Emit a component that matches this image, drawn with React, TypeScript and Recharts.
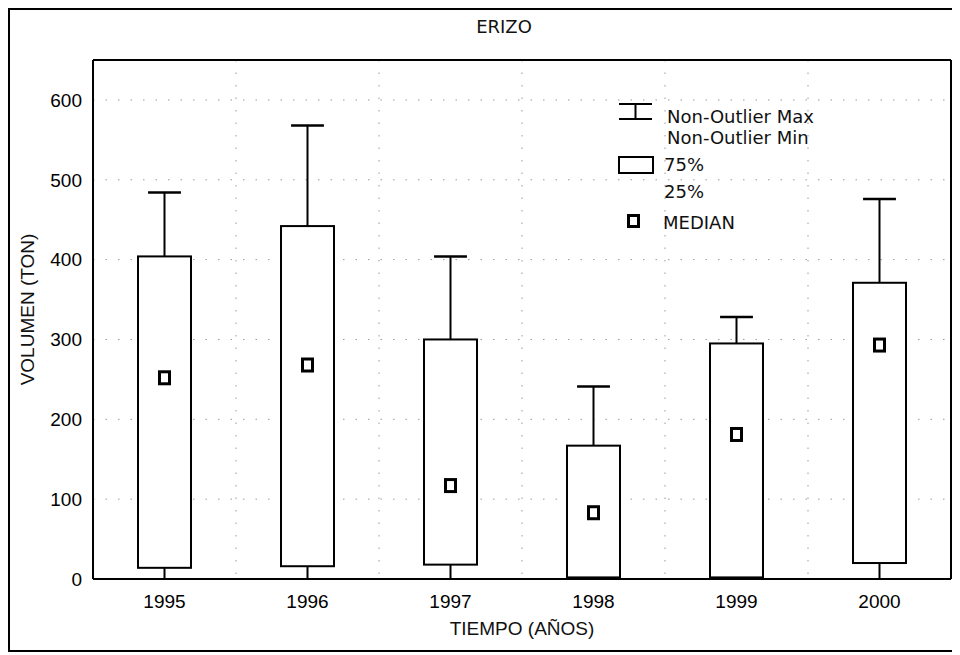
import { ComposedChart, Bar, Scatter, XAxis, YAxis, CartesianGrid, Legend } from 'recharts';

// ERIZO – volumen anual (box plot: min/max no atípicos, cuartiles y mediana)
const years = ['1995', '1996', '1997', '1998', '1999', '2000'];
const minVals = [0, 0, 0, 0, 0, 0];
const q1Vals = [14, 16, 18, 2, 2, 20];
const medianVals = [252, 268, 117, 83, 181, 293];
const q3Vals = [404, 442, 300, 167, 295, 371];
const maxVals = [484, 568, 404, 241, 328, 476];
const yTicks = [0, 100, 200, 300, 400, 500, 600];
const legendLabels = ['Non-Outlier Max', 'Non-Outlier Min', '75%', '25%', 'MEDIAN'];

const chartData = years.map((year, i) => ({
  year,
  min: minVals[i],
  q1: q1Vals[i],
  median: medianVals[i],
  q3: q3Vals[i],
  max: maxVals[i],
}));

const axisFont = '"Liberation Sans", Arial, sans-serif';
const labelFont = '"DejaVu Sans", Verdana, sans-serif';

function BoxShape(props: any) {
  const { x, y, width, height, payload } = props;
  const { min, q1, q3, max } = payload;
  // map a value onto the bar's [min, max] pixel range
  const yOf = (v: number) => y + (height * (max - v)) / (max - min);
  const cx = x + width / 2;
  const cap = width * 0.31;
  return (
    <g stroke="#000" fill="none">
      <line x1={cx} x2={cx} y1={yOf(max)} y2={yOf(q3)} strokeWidth={2} />
      <line x1={cx - cap} x2={cx + cap} y1={yOf(max)} y2={yOf(max)} strokeWidth={2.5} />
      <line x1={cx} x2={cx} y1={yOf(q1)} y2={yOf(min)} strokeWidth={2} />
      <rect x={x} y={yOf(q3)} width={width} height={yOf(q1) - yOf(q3)} fill="#fff" strokeWidth={2} />
    </g>
  );
}

function MedianShape(props: any) {
  const { cx, cy } = props;
  return <rect x={cx - 5} y={cy - 6} width={10} height={12} fill="#fff" stroke="#000" strokeWidth={3} />;
}

function LegendBox() {
  const textStyle = { fontFamily: labelFont, fontSize: 18, fill: '#111' };
  return (
    <svg width={230} height={140}>
      <g stroke="#000" strokeWidth={2} fill="none">
        <line x1={9} x2={42} y1={9} y2={9} />
        <line x1={25.5} x2={25.5} y1={9} y2={24} />
        <line x1={9} x2={42} y1={24} y2={24} />
        <rect x={9} y={62} width={34} height={16} fill="#fff" />
        <rect x={18.5} y={120.5} width={10} height={11} fill="#fff" strokeWidth={3} />
      </g>
      <text x={57} y={28} {...textStyle}>{legendLabels[0]}</text>
      <text x={57} y={49} {...textStyle}>{legendLabels[1]}</text>
      <text x={54} y={76} {...textStyle}>{legendLabels[2]}</text>
      <text x={54} y={103} {...textStyle}>{legendLabels[3]}</text>
      <text x={53} y={134} {...textStyle}>{legendLabels[4]}</text>
    </svg>
  );
}

export default function App() {
  return (
    <div
      style={{
        position: 'relative',
        width: 946,
        height: 640,
        borderLeft: '2px solid #000',
        borderTop: '2px solid #000',
        borderBottom: '2px solid #000',
        background: '#fff',
      }}
    >
      <div
        style={{
          position: 'absolute',
          top: 8,
          left: 444,
          width: 100,
          textAlign: 'center',
          fontFamily: labelFont,
          fontSize: 18,
          lineHeight: '18px',
          color: '#111',
        }}
      >
        ERIZO
      </div>
      <ComposedChart width={946} height={640} data={chartData} margin={{ top: 49, right: 4, left: 0, bottom: 11 }}>
        <CartesianGrid
          stroke="#9a9a9a"
          strokeDasharray="1.5 11"
          verticalCoordinatesGenerator={({ offset }: any) =>
            years.slice(1).map((_, i) => offset.left + (offset.width * (i + 1)) / years.length)
          }
        />
        <XAxis
          dataKey="year"
          height={60}
          tickLine={false}
          tickMargin={10}
          axisLine={{ stroke: '#000', strokeWidth: 2 }}
          tick={{ fontSize: 19, fill: '#000', fontFamily: axisFont }}
          label={{
            value: 'TIEMPO (AÑOS)',
            content: ({ viewBox }: any) => (
              <text
                x={viewBox.x + viewBox.width / 2}
                y={viewBox.y + 56}
                textAnchor="middle"
                fontFamily={axisFont}
                fontSize={19}
                fill="#111"
              >
                TIEMPO (AÑOS)
              </text>
            ),
          }}
        />
        <XAxis
          xAxisId="top"
          dataKey="year"
          orientation="top"
          height={1}
          tick={false}
          tickLine={false}
          axisLine={{ stroke: '#000', strokeWidth: 2 }}
        />
        <YAxis
          domain={[0, 650]}
          ticks={yTicks}
          width={83}
          tickLine={false}
          tickMargin={5}
          axisLine={{ stroke: '#000', strokeWidth: 2 }}
          tick={{ fontSize: 19, fill: '#000', fontFamily: axisFont }}
          label={{
            value: 'VOLUMEN (TON)',
            content: ({ viewBox }: any) => {
              const lx = viewBox.x + 17;
              const ly = viewBox.y + viewBox.height / 2 - 10;
              return (
                <text
                  x={lx}
                  y={ly}
                  transform={`rotate(-90, ${lx}, ${ly})`}
                  textAnchor="middle"
                  dominantBaseline="central"
                  fontFamily={axisFont}
                  fontSize={19}
                  fill="#111"
                >
                  VOLUMEN (TON)
                </text>
              );
            },
          }}
        />
        <YAxis
          yAxisId="right"
          orientation="right"
          domain={[0, 650]}
          width={1}
          tick={false}
          tickLine={false}
          axisLine={{ stroke: '#000', strokeWidth: 2 }}
        />
        <Legend
          layout="horizontal"
          verticalAlign="middle"
          align="center"
          content={() => <LegendBox />}
          wrapperStyle={{ position: 'absolute', left: 600, top: 85, width: 230, height: 140 }}
        />
        <Bar
          dataKey={(d: any) => [d.min, d.max]}
          barSize={53}
          shape={BoxShape}
          isAnimationActive={false}
        />
        <Scatter dataKey="median" shape={MedianShape} isAnimationActive={false} />
      </ComposedChart>
    </div>
  );
}
